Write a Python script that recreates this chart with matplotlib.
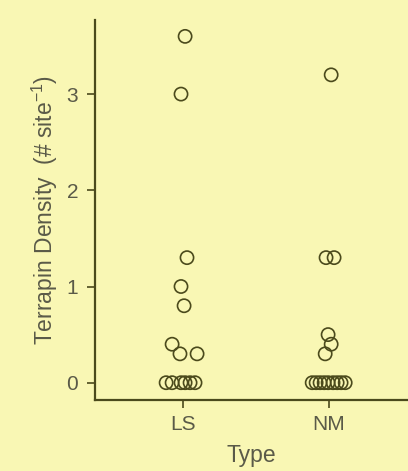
import matplotlib
matplotlib.use("Agg")
import matplotlib.pyplot as plt

plt.rcParams['font.family'] = ['Liberation Sans', 'DejaVu Sans']
plt.rcParams['mathtext.fontset'] = 'custom'
plt.rcParams['mathtext.rm'] = 'Liberation Sans'

categories = ["LS", "NM"]

# terrapin density per site, with horizontal jitter offsets
ls_density = [3.6, 3.0, 1.3, 1.0, 0.8, 0.4, 0.3, 0.3, 0, 0, 0, 0, 0, 0]
ls_jitter = [0.014, -0.014, 0.027, -0.014, 0.007, -0.075, -0.021, 0.096,
             -0.116, -0.075, -0.014, 0.014, 0.048, 0.082]
nm_density = [3.2, 1.3, 1.3, 0.5, 0.4, 0.3, 0, 0, 0, 0, 0, 0, 0, 0, 0]
nm_jitter = [0.014, -0.021, 0.034, -0.007, 0.014, -0.027,
             -0.116, -0.089, -0.062, -0.034, -0.007, 0.027, 0.055, 0.082, 0.110]

bg = '#f9f7b4'
ink = '#4b4a1c'
txt = '#5a5a48'

fig = plt.figure(figsize=(4.08, 4.71), dpi=100, facecolor=bg)
ax = fig.add_axes([0.2328, 0.1507, 0.7672, 0.8068], facecolor=bg)

for i, (vals, jit) in enumerate([(ls_density, ls_jitter), (nm_density, nm_jitter)]):
    xs = [i + 1 + j for j in jit]
    ax.scatter(xs, vals, s=90, facecolors='none', edgecolors=ink, linewidths=1.2, zorder=3)

ax.set_xlim(0.397, 2.54)
ax.set_ylim(-0.18, 3.77)
ax.set_xticks([1, 2])
ax.set_xticklabels(categories)
ax.set_yticks([0, 1, 2, 3])

for side in ['top', 'right']:
    ax.spines[side].set_visible(False)
for side in ['left', 'bottom']:
    ax.spines[side].set_color(ink)
    ax.spines[side].set_linewidth(1.6)

ax.tick_params(axis='both', colors=ink, length=6, width=1.2, labelsize=15, labelcolor=txt)
ax.tick_params(axis='y', pad=6)
ax.tick_params(axis='x', pad=5)

ax.set_xlabel("Type", fontsize=16.5, color=txt, labelpad=7)
ax.set_ylabel("Terrapin Density  (# site$^{-1}$)", fontsize=16.5, color=txt, labelpad=5)

fig.savefig("out.png", dpi=100, facecolor=bg)
